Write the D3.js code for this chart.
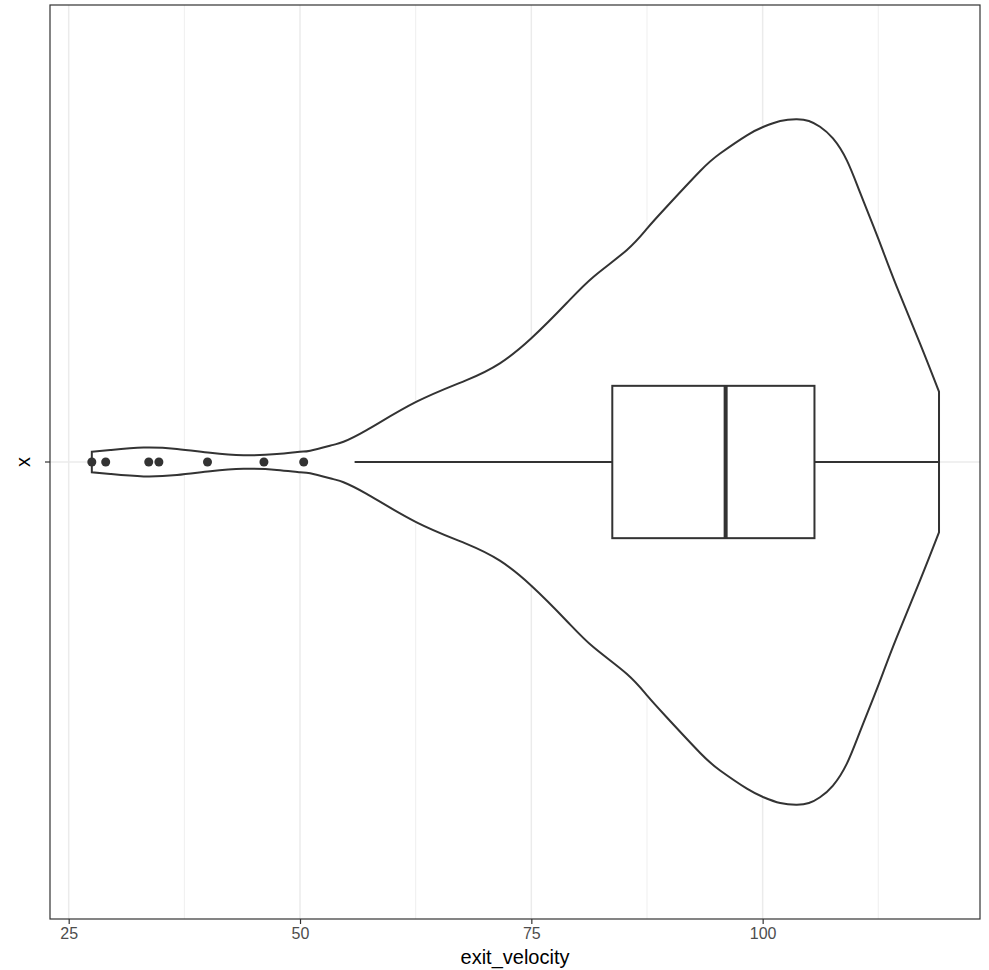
<!DOCTYPE html>
<html>
<head>
<meta charset="utf-8">
<script src="https://cdn.jsdelivr.net/npm/d3@7"></script>
<style>
  body { margin: 0; background: #fff; }
  svg { display: block; font-family: "Liberation Sans", Arial, sans-serif; }
</style>
</head>
<body>
<div id="chart"></div>
<script>
// violin outline: exit velocity value and relative density (max = 1)
const violinValue = [27.5, 29.5, 33.1, 36.7, 40.3, 43.9, 47.5, 50.0, 51.1, 53.6, 54.7, 57.2, 62.6, 68.0, 71.6, 75.0, 78.8, 81.7, 85.3, 87.5, 89.6, 93.25, 95.4, 98.3, 100.1, 101.9, 103.7, 105.0, 106.2, 107.6, 109.1, 110.5, 112.0, 113.0, 114.5, 117.0, 119.06];
const violinDensity = [0.030, 0.035, 0.042, 0.038, 0.027, 0.020, 0.023, 0.030, 0.033, 0.050, 0.059, 0.093, 0.176, 0.239, 0.288, 0.361, 0.463, 0.540, 0.618, 0.681, 0.744, 0.849, 0.900, 0.953, 0.978, 0.995, 1.000, 0.995, 0.978, 0.944, 0.880, 0.788, 0.686, 0.616, 0.511, 0.346, 0.205];

// box plot summary
const boxStats = { lower: 55.9, q1: 83.75, median: 96.0, q3: 105.6, upper: 119.06 };
const outliers = [27.5, 29.0, 33.65, 34.75, 40.0, 46.1, 50.4];

const categories = [""];
const xTicks = [25, 50, 75, 100];
const xMinor = [37.5, 62.5, 87.5, 112.5];
const xDomain = [22.98, 123.49];

const W = 989, H = 970;
const panel = { left: 50, top: 5, right: 980, bottom: 919 };

const svg = d3.select("#chart").append("svg")
    .attr("width", W)
    .attr("height", H);

const x = d3.scaleLinear().domain(xDomain).range([panel.left, panel.right]);
// discrete axis: one category, expanded 0.6 on each side
const yCont = d3.scaleLinear().domain([0.4, 1.6]).range([panel.bottom, panel.top]);
const unit = yCont(0) - yCont(1);
const cy = yCont(1);

// grid
const grid = svg.append("g");
grid.selectAll("line.minor").data(xMinor).join("line")
    .attr("class", "minor")
    .attr("x1", d => x(d)).attr("x2", d => x(d))
    .attr("y1", panel.top).attr("y2", panel.bottom)
    .attr("stroke", "#EBEBEB").attr("stroke-width", 0.8);
grid.selectAll("line.major").data(xTicks).join("line")
    .attr("class", "major")
    .attr("x1", d => x(d)).attr("x2", d => x(d))
    .attr("y1", panel.top).attr("y2", panel.bottom)
    .attr("stroke", "#EBEBEB").attr("stroke-width", 1.5);
grid.selectAll("line.hmajor").data(categories).join("line")
    .attr("class", "hmajor")
    .attr("x1", panel.left).attr("x2", panel.right)
    .attr("y1", cy).attr("y2", cy)
    .attr("stroke", "#EBEBEB").attr("stroke-width", 1.5);

// violin
const dens = d3.scaleLinear()
    .domain([0, d3.max(violinDensity)])
    .range([0, 0.45 * unit]);
const vdata = violinValue.map((v, i) => [v, violinDensity[i]]);
const area = d3.area()
    .x(d => x(d[0]))
    .y0(d => cy + dens(d[1]))
    .y1(d => cy - dens(d[1]))
    .curve(d3.curveNatural);
svg.append("path")
    .attr("d", area(vdata) + "Z")
    .attr("fill", "#fff")
    .attr("stroke", "#333333")
    .attr("stroke-width", 2);

// box plot
const boxHalf = 0.1 * unit;
const bp = svg.append("g").attr("stroke", "#333333").attr("fill", "#fff");
bp.append("line")
    .attr("x1", x(boxStats.lower)).attr("x2", x(boxStats.q1))
    .attr("y1", cy).attr("y2", cy).attr("stroke-width", 2);
bp.append("line")
    .attr("x1", x(boxStats.q3)).attr("x2", x(boxStats.upper))
    .attr("y1", cy).attr("y2", cy).attr("stroke-width", 2);
bp.append("rect")
    .attr("x", x(boxStats.q1)).attr("width", x(boxStats.q3) - x(boxStats.q1))
    .attr("y", cy - boxHalf).attr("height", 2 * boxHalf)
    .attr("stroke-width", 2);
bp.append("line")
    .attr("x1", x(boxStats.median)).attr("x2", x(boxStats.median))
    .attr("y1", cy - boxHalf).attr("y2", cy + boxHalf)
    .attr("stroke-width", 4);

svg.append("g").selectAll("circle").data(outliers).join("circle")
    .attr("cx", d => x(d)).attr("cy", cy).attr("r", 4.5)
    .attr("fill", "#333333");

// panel border
svg.append("rect")
    .attr("x", panel.left).attr("y", panel.top)
    .attr("width", panel.right - panel.left).attr("height", panel.bottom - panel.top)
    .attr("fill", "none").attr("stroke", "#333333").attr("stroke-width", 1.2);

// x axis
const xAxis = svg.append("g")
    .attr("transform", `translate(0,${panel.bottom})`)
    .call(d3.axisBottom(x).tickValues(xTicks).tickSize(5).tickPadding(4));
xAxis.select(".domain").remove();
xAxis.selectAll(".tick line").attr("stroke", "#333333").attr("stroke-width", 1.2);
xAxis.selectAll(".tick text").attr("fill", "#4D4D4D").attr("font-size", 16)
    .attr("font-family", "Liberation Sans, Arial, sans-serif");

// y tick
svg.append("line")
    .attr("x1", panel.left - 5).attr("x2", panel.left)
    .attr("y1", cy).attr("y2", cy)
    .attr("stroke", "#333333").attr("stroke-width", 1.2);

// titles
svg.append("text")
    .attr("x", (panel.left + panel.right) / 2).attr("y", 964)
    .attr("text-anchor", "middle").attr("font-size", 20).attr("fill", "#000")
    .text("exit_velocity");
svg.append("text")
    .attr("transform", `translate(30,${cy}) rotate(-90)`)
    .attr("text-anchor", "middle").attr("font-size", 20).attr("fill", "#000")
    .text("x");
</script>
</body>
</html>
